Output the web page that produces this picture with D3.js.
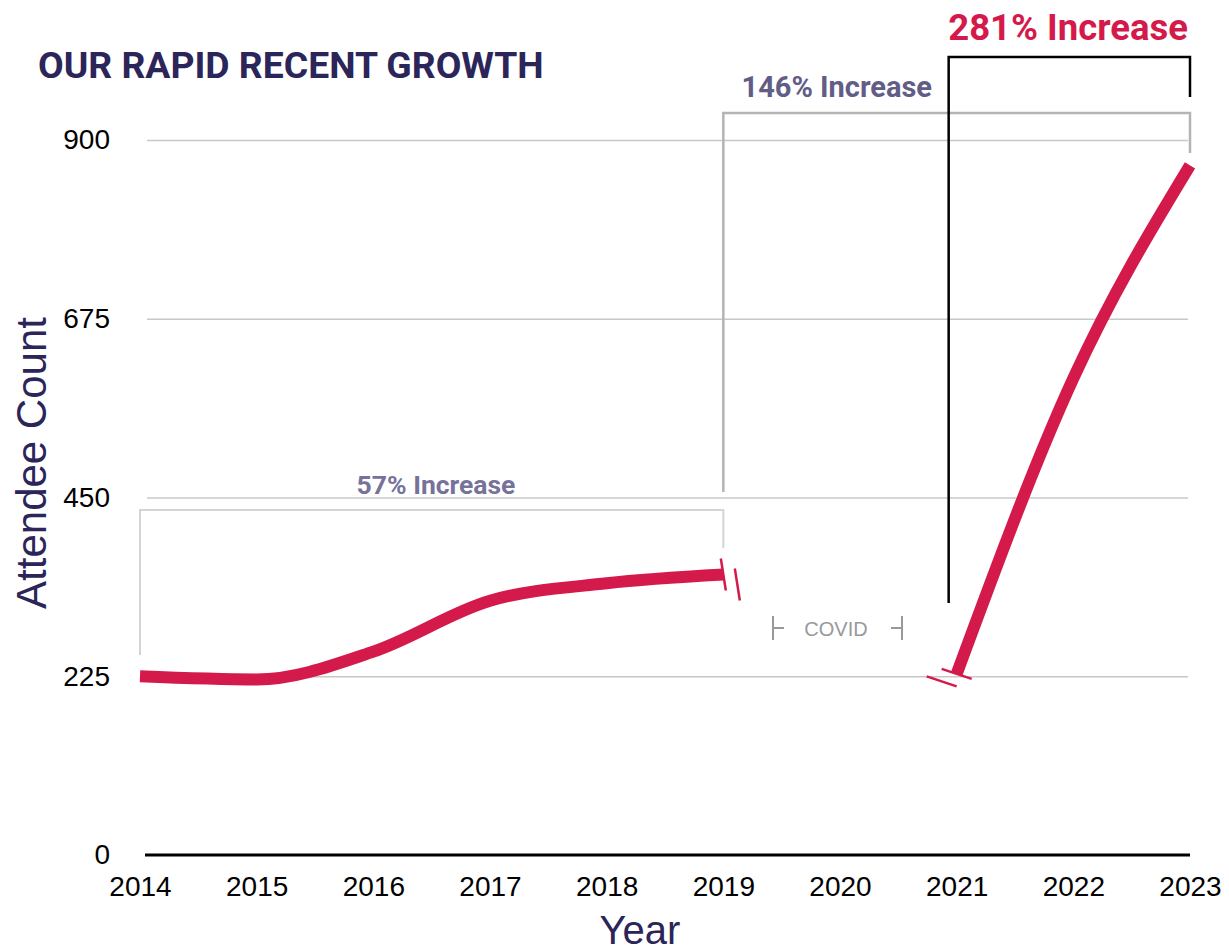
<!DOCTYPE html>
<html>
<head>
<meta charset="utf-8">
<script src="https://cdn.jsdelivr.net/npm/d3@7"></script>
<style>
  body { margin: 0; background: #fff; }
  svg text { font-family: "Liberation Sans", Arial, sans-serif; }
  .title, .bracket-label { font-family: Roboto, "Noto Sans", sans-serif !important; font-weight: 700; }
</style>
</head>
<body>
<svg></svg>
<script>
var width = 1229,
    height = 947;

// data
var yearTicks = [2014, 2015, 2016, 2017, 2018, 2019, 2020, 2021, 2022, 2023];
var countTicks = [0, 225, 450, 675, 900];
var yearsBefore = [2014, 2015, 2016, 2017, 2018, 2019];
var countsBefore = [225, 221, 256, 320, 342, 353];
var yearsAfter = [2021, 2022, 2023];
var countsAfter = [228, 600, 868];
var increases = [
  { label: "57% Increase", from: 2014, to: 2019 },
  { label: "146% Increase", from: 2019, to: 2023 },
  { label: "281% Increase", from: 2021, to: 2023 }
];

var red = "#d41a4b",
    navy = "#2b2559";

var svg = d3.select("svg")
    .attr("width", width)
    .attr("height", height);

var x = d3.scaleLinear().domain([2014, 2023]).range([140, 1190]);
var y = d3.scaleLinear().domain([0, 900]).range([855, 140]);

// grid + y ticks
var yAxis = svg.append("g")
    .attr("transform", "translate(147,0)")
    .call(d3.axisLeft(y).tickValues(countTicks).tickSize(-1041).tickPadding(37));
yAxis.select(".domain").remove();
yAxis.selectAll("line").attr("stroke", "#c8c8c8").attr("stroke-width", 1.5);
yAxis.selectAll("text").attr("font-size", 28).attr("fill", "#000");
yAxis.selectAll(".tick").filter(function(d) { return d === 0; }).select("line").remove();

// x axis
var xAxis = svg.append("g")
    .attr("transform", "translate(0," + y(0) + ")")
    .call(d3.axisBottom(x).tickValues(yearTicks).tickFormat(d3.format("d")).tickSize(0).tickPadding(21));
xAxis.select(".domain").remove();
xAxis.selectAll("text").attr("font-size", 28).attr("fill", "#000");
svg.append("line")
    .attr("x1", 145).attr("x2", x(2023))
    .attr("y1", y(0)).attr("y2", y(0))
    .attr("stroke", "#000").attr("stroke-width", 3);

// brackets
function bracket(d, yTop, leftEnd, rightEnd, color, sw) {
  var x0 = x(d.from), x1 = x(d.to);
  svg.append("path")
      .attr("d", "M" + x0 + "," + leftEnd + "V" + yTop + "H" + x1 + "V" + rightEnd)
      .attr("fill", "none")
      .attr("stroke", color)
      .attr("stroke-width", sw);
}
bracket(increases[0], 510, 655, 548, "#d4d4d4", 2);
bracket(increases[1], 113, 492, 153, "#b4b4b4", 2.5);
svg.append("path")
    .attr("d", "M" + (x(2021) - 8) + ",603V57H" + x(2023) + "V97")
    .attr("fill", "none").attr("stroke", "#000").attr("stroke-width", 2.5);

svg.append("text").attr("class", "bracket-label")
    .attr("x", 436).attr("y", 494)
    .attr("text-anchor", "middle").attr("font-size", 26.5).attr("fill", "#76729a")
    .text(increases[0].label);
svg.append("text").attr("class", "bracket-label")
    .attr("x", 932).attr("y", 97)
    .attr("text-anchor", "end").attr("font-size", 29).attr("fill", "#625d86")
    .text(increases[1].label);
svg.append("text").attr("class", "bracket-label")
    .attr("x", 1188).attr("y", 40)
    .attr("text-anchor", "end").attr("font-size", 36.5).attr("fill", red)
    .text(increases[2].label);

// lines
var line = d3.line()
    .x(function(d) { return x(d[0]); })
    .y(function(d) { return y(d[1]); })
    .curve(d3.curveMonotoneX);

[d3.zip(yearsBefore, countsBefore), d3.zip(yearsAfter, countsAfter)].forEach(function(pts) {
  svg.append("path")
      .attr("d", line(pts))
      .attr("fill", "none")
      .attr("stroke", red)
      .attr("stroke-width", 12);
});

// break marks
function breakMark(px, py, dx, dy, ox, oy) {
  [[0, 0], [ox, oy]].forEach(function(o) {
    svg.append("line")
        .attr("x1", px + o[0] - dx).attr("y1", py + o[1] - dy)
        .attr("x2", px + o[0] + dx).attr("y2", py + o[1] + dy)
        .attr("stroke", red).attr("stroke-width", 2.5);
  });
}
breakMark(x(2019), y(353), 2.5, 16, 14, 10);
breakMark(x(2021), y(228), 15, 5, -15, 7.5);

// covid gap
var cx = x(2020) - 4, cy = 628;
svg.append("text")
    .attr("x", cx).attr("y", cy + 8)
    .attr("text-anchor", "middle").attr("font-size", 20).attr("fill", "#999")
    .text("COVID");
svg.append("path")
    .attr("d", "M" + (cx - 63) + "," + (cy - 12) + "V" + (cy + 12) + "M" + (cx - 63) + "," + cy + "h11" +
               "M" + (cx + 66) + "," + (cy - 12) + "V" + (cy + 12) + "M" + (cx + 66) + "," + cy + "h-11")
    .attr("fill", "none").attr("stroke", "#999").attr("stroke-width", 2);

// titles
svg.append("text").attr("class", "title")
    .attr("x", 38).attr("y", 78)
    .attr("font-size", 37.3).attr("fill", navy)
    .text("OUR RAPID RECENT GROWTH");

svg.append("text")
    .attr("transform", "translate(46,463) rotate(-90)")
    .attr("text-anchor", "middle").attr("font-size", 42).attr("fill", navy)
    .text("Attendee Count");

svg.append("text")
    .attr("x", 640).attr("y", 944)
    .attr("text-anchor", "middle").attr("font-size", 40).attr("fill", navy)
    .text("Year");
</script>
</body>
</html>
